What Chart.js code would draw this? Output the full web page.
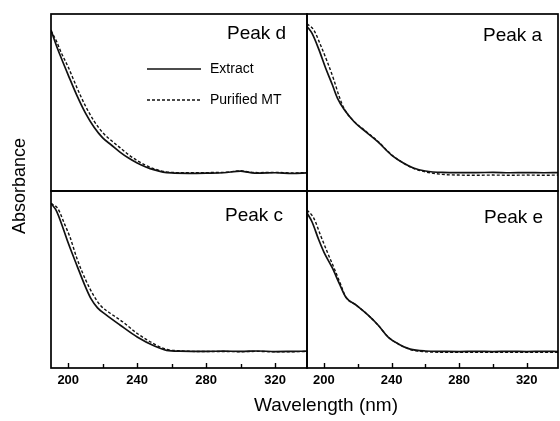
<!DOCTYPE html>
<html><head><meta charset="utf-8">
<script src="https://cdn.jsdelivr.net/npm/chart.js@4.4.1/dist/chart.umd.min.js"></script>
<style>
html,body{margin:0;padding:0;background:#fff;overflow:hidden;width:560px;height:421px;position:relative}
canvas{position:absolute;left:0;top:0}
</style></head><body>
<canvas id="pD" width="560" height="421"></canvas>
<canvas id="pA" width="560" height="421"></canvas>
<canvas id="pC" width="560" height="421"></canvas>
<canvas id="pE" width="560" height="421"></canvas>
<script>
// ---- data ----
const xMin = 190, xMax = 338.5;
const xTickValues = [200, 220, 240, 260, 280, 300, 320];
const seriesNames = ['Extract', 'Purified MT'];
const panelNames = ['Peak d', 'Peak a', 'Peak c', 'Peak e'];
const xTitle = 'Wavelength (nm)';
const yTitle = 'Absorbance';

// Peak d
const dExtractX = [190,193,196,200,205,210,215,220,225,230,235,240,245,250,255,260,270,280,290,300,305,310,320,330,338.5];
const dExtractY = [0.91,0.825,0.75,0.655,0.54,0.44,0.36,0.30,0.26,0.22,0.186,0.158,0.136,0.119,0.107,0.102,0.100,0.101,0.103,0.112,0.105,0.101,0.103,0.099,0.102];
const dPurifiedX = [190,193,196,200,205,210,215,220,225,230,235,240,245,250,255,260,270,280,290,300,305,310,320,330,338.5];
const dPurifiedY = [0.905,0.85,0.78,0.70,0.585,0.48,0.395,0.33,0.285,0.245,0.205,0.172,0.145,0.125,0.111,0.105,0.103,0.104,0.105,0.114,0.107,0.104,0.105,0.102,0.104];
// Peak a
const aExtractX = [190,193,197,201,205,208,212,218,225,232,240,247,253,260,270,280,290,300,310,320,330,338.5];
const aExtractY = [0.93,0.89,0.80,0.695,0.60,0.525,0.46,0.39,0.333,0.277,0.203,0.158,0.13,0.113,0.105,0.104,0.104,0.105,0.103,0.104,0.103,0.104];
const aPurifiedX = [190,194,198,202,206,209,212,218,225,232,240,247,253,260,270,280,290,300,310,320,330,338.5];
const aPurifiedY = [0.945,0.91,0.825,0.73,0.625,0.535,0.465,0.392,0.336,0.28,0.205,0.158,0.128,0.108,0.094,0.090,0.089,0.090,0.089,0.090,0.089,0.090];
// Peak c
const cExtractX = [190,193,197,200,205,210,213,217,222,230,240,250,257,265,280,290,300,310,320,330,338.5];
const cExtractY = [0.93,0.89,0.79,0.706,0.58,0.458,0.395,0.34,0.30,0.243,0.175,0.124,0.10,0.095,0.094,0.095,0.094,0.096,0.093,0.094,0.095];
const cPurifiedX = [190,194,198,201,205,210,215,219,225,232,240,250,257,265,280,290,300,310,320,330,338.5];
const cPurifiedY = [0.93,0.90,0.81,0.74,0.62,0.50,0.405,0.35,0.305,0.258,0.195,0.135,0.105,0.097,0.093,0.093,0.092,0.094,0.091,0.092,0.093];
// Peak e
const eExtractX = [190,193,197,200,205,209,213,219,226,232,238,244,251,260,270,280,290,300,310,320,330,338.5];
const eExtractY = [0.876,0.825,0.723,0.655,0.565,0.48,0.40,0.356,0.30,0.243,0.175,0.136,0.107,0.096,0.094,0.093,0.094,0.093,0.094,0.093,0.094,0.093];
const ePurifiedX = [190,194,198,202,206,210,213,219,226,232,238,244,251,260,270,280,290,300,310,320,330,338.5];
const ePurifiedY = [0.893,0.847,0.75,0.655,0.565,0.47,0.40,0.356,0.30,0.243,0.175,0.136,0.105,0.092,0.089,0.088,0.089,0.088,0.089,0.088,0.089,0.088];

// ---- drawing ----
const FONT = '"Liberation Sans", Arial, Helvetica, sans-serif';
const INK = '#111';
const pts = (xs, ys) => xs.map((x, i) => ({x, y: ys[i]}));

const panelPlugin = {
  id: 'panel',
  afterDatasetsDraw(chart, args, o) {
    const {ctx, chartArea: a} = chart;
    ctx.save();
    ctx.strokeStyle = '#000';
    ctx.lineWidth = 1.7;
    ctx.strokeRect(a.left, a.top, a.right - a.left, a.bottom - a.top);
    // inward tick marks along the bottom edge, placed by the x scale
    if (o.ticks) {
      const xs = chart.scales.x;
      ctx.lineWidth = 1.4;
      xTickValues.forEach(v => {
        const px = Math.round(xs.getPixelForValue(v)) + 0.5;
        ctx.beginPath();
        ctx.moveTo(px, a.bottom);
        ctx.lineTo(px, a.bottom - (v % 40 === 0 ? 5 : 4));
        ctx.stroke();
      });
    }
    ctx.fillStyle = '#000';
    ctx.font = '19px ' + FONT;
    ctx.textAlign = 'left';
    ctx.textBaseline = 'alphabetic';
    ctx.fillText(o.label, a.left + o.lx, a.top + o.ly);
    if (o.legend) {
      ctx.font = '14px ' + FONT;
      chart.data.datasets.forEach((ds, i) => {
        const y = a.top + 55 + i * 31;
        ctx.beginPath();
        ctx.setLineDash(ds.borderDash || []);
        ctx.lineWidth = 1.4;
        ctx.strokeStyle = ds.borderColor;
        ctx.moveTo(a.left + 96, y);
        ctx.lineTo(a.left + 150, y);
        ctx.stroke();
        ctx.setLineDash([]);
        ctx.textBaseline = 'middle';
        ctx.fillText(ds.label, a.left + 159, y);
      });
    }
    if (o.titles) {
      ctx.font = '19px ' + FONT;
      ctx.textAlign = 'center';
      ctx.textBaseline = 'middle';
      ctx.fillText(xTitle, 326, 406);
      ctx.translate(20, 186);
      ctx.rotate(-Math.PI / 2);
      ctx.font = '18px ' + FONT;
      ctx.fillText(yTitle, 0, 0);
    }
    ctx.restore();
  }
};

function makePanel(id, ex, ey, px, py, pad, showX, panelOpts) {
  const xScale = {
    type: 'linear', min: xMin, max: xMax, display: showX,
    afterBuildTicks: s => { s.ticks = xTickValues.map(v => ({value: v})); },
    border: {display: false},
    grid: {display: false, drawOnChartArea: false, drawTicks: false},
    ticks: {
      autoSkip: false, maxRotation: 0, padding: 5, color: '#000',
      font: {family: FONT, size: 13, weight: 'bold'},
      callback: v => (v % 40 === 0 ? String(v) : '')
    }
  };
  if (showX) xScale.afterFit = s => { s.height = 30; };
  new Chart(document.getElementById(id), {
    type: 'line',
    data: {
      datasets: [
        {label: seriesNames[0], data: pts(ex, ey), borderColor: INK, borderWidth: 1.7, pointRadius: 0, cubicInterpolationMode: 'monotone'},
        {label: seriesNames[1], data: pts(px, py), borderColor: INK, borderWidth: 1.4, borderDash: [3, 2], pointRadius: 0, cubicInterpolationMode: 'monotone'}
      ]
    },
    options: {
      responsive: false,
      animation: false,
      events: [],
      layout: {padding: pad},
      plugins: {legend: {display: false}, tooltip: {enabled: false}, panel: panelOpts},
      scales: {
        x: xScale,
        y: {type: 'linear', min: 0, max: 1, display: false}
      }
    },
    plugins: [panelPlugin]
  });
}

makePanel('pD', dExtractX, dExtractY, dPurifiedX, dPurifiedY,
  {left: 51, top: 14, right: 253, bottom: 230}, false,
  {label: panelNames[0], lx: 176, ly: 25, legend: true});
makePanel('pA', aExtractX, aExtractY, aPurifiedX, aPurifiedY,
  {left: 307, top: 14, right: 2, bottom: 230}, false,
  {label: panelNames[1], lx: 176, ly: 27});
makePanel('pC', cExtractX, cExtractY, cPurifiedX, cPurifiedY,
  {left: 51, top: 191, right: 253, bottom: 23}, true,
  {label: panelNames[2], lx: 174, ly: 30, titles: true, ticks: true});
makePanel('pE', eExtractX, eExtractY, ePurifiedX, ePurifiedY,
  {left: 307, top: 191, right: 2, bottom: 23}, true,
  {label: panelNames[3], lx: 177, ly: 32, ticks: true});
</script>
</body></html>
